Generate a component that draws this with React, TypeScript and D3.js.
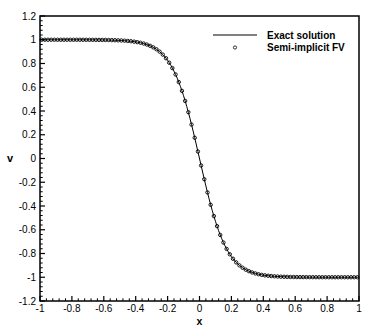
import React from "react";
import * as d3 from "d3";

const fvX = [
  -0.99, -0.97, -0.95, -0.93, -0.91, -0.89, -0.87, -0.85, -0.83, -0.81,
  -0.79, -0.77, -0.75, -0.73, -0.71, -0.69, -0.67, -0.65, -0.63, -0.61,
  -0.59, -0.57, -0.55, -0.53, -0.51, -0.49, -0.47, -0.45, -0.43, -0.41,
  -0.39, -0.37, -0.35, -0.33, -0.31, -0.29, -0.27, -0.25, -0.23, -0.21,
  -0.19, -0.17, -0.15, -0.13, -0.11, -0.09, -0.07, -0.05, -0.03, -0.01,
  0.01, 0.03, 0.05, 0.07, 0.09, 0.11, 0.13, 0.15, 0.17, 0.19,
  0.21, 0.23, 0.25, 0.27, 0.29, 0.31, 0.33, 0.35, 0.37, 0.39,
  0.41, 0.43, 0.45, 0.47, 0.49, 0.51, 0.53, 0.55, 0.57, 0.59,
  0.61, 0.63, 0.65, 0.67, 0.69, 0.71, 0.73, 0.75, 0.77, 0.79,
  0.81, 0.83, 0.85, 0.87, 0.89, 0.91, 0.93, 0.95, 0.97, 0.99,
];

const fvV = [
  1.0, 1.0, 1.0, 1.0, 1.0, 0.9999, 0.9999, 0.9999, 0.9999, 0.9999,
  0.9998, 0.9998, 0.9997, 0.9996, 0.9995, 0.9994, 0.9992, 0.999, 0.9988, 0.9985,
  0.9981, 0.9976, 0.9969, 0.9961, 0.9951, 0.9938, 0.9921, 0.99, 0.9874, 0.984,
  0.9799, 0.9746, 0.9679, 0.9596, 0.9492, 0.9361, 0.9199, 0.8997, 0.8748, 0.8441,
  0.8067, 0.7616, 0.7076, 0.6438, 0.5697, 0.4849, 0.39, 0.2859, 0.1747, 0.0588,
  -0.0588, -0.1747, -0.2859, -0.39, -0.4849, -0.5697, -0.6438, -0.7076, -0.7616, -0.8067,
  -0.8441, -0.8748, -0.8997, -0.9199, -0.9361, -0.9492, -0.9596, -0.9679, -0.9746, -0.9799,
  -0.984, -0.9874, -0.99, -0.9921, -0.9938, -0.9951, -0.9961, -0.9969, -0.9976, -0.9981,
  -0.9985, -0.9988, -0.999, -0.9992, -0.9994, -0.9995, -0.9996, -0.9997, -0.9998, -0.9998,
  -0.9999, -0.9999, -0.9999, -0.9999, -0.9999, -1.0, -1.0, -1.0, -1.0, -1.0,
];

const exactX = [-1.0, ...fvX, 1.0];
const exactV = [1.0, ...fvV, -1.0];

const xTicks = [-1, -0.8, -0.6, -0.4, -0.2, 0, 0.2, 0.4, 0.6, 0.8, 1];
const yTicks = [-1.2, -1, -0.8, -0.6, -0.4, -0.2, 0, 0.2, 0.4, 0.6, 0.8, 1, 1.2];
const legendLabels = ["Exact solution", "Semi-implicit FV"];

const W = 374;
const H = 332;
const L = 40, R = 359, T = 16, B = 301;
const FONT = "'Liberation Sans', Arial, Helvetica, sans-serif";

export default function App() {
  const x = d3.scaleLinear().domain([-1, 1]).range([L, R]);
  const y = d3.scaleLinear().domain([-1.2, 1.2]).range([B, T]);

  const line = d3
    .line<number>()
    .x((_, i) => x(exactX[i]))
    .y((d) => y(d))
    .curve(d3.curveMonotoneX);

  const xMinor: number[] = [];
  for (let i = 0; i < xTicks.length - 1; i++) {
    const a = xTicks[i], b = xTicks[i + 1];
    for (let k = 1; k < 5; k++) xMinor.push(a + ((b - a) * k) / 5);
  }
  const yMinor: number[] = [];
  for (let i = 0; i < yTicks.length - 1; i++) {
    const a = yTicks[i], b = yTicks[i + 1];
    for (let k = 1; k < 5; k++) yMinor.push(a + ((b - a) * k) / 5);
  }

  const fmt = (v: number) => {
    const s = d3.format("")(Math.round(v * 10) / 10);
    return s.replace("\u2212", "-");
  };

  return (
    <svg
      width={W}
      height={H}
      style={{ position: "absolute", left: 0, top: 0, display: "block", background: "#fff" }}
      fontFamily={FONT}
    >
      {xMinor.map((t, i) => (
        <line key={"xm" + i} x1={x(t)} x2={x(t)} y1={B} y2={B - 2.7} stroke="#000" strokeWidth={1} />
      ))}
      {yMinor.map((t, i) => (
        <line key={"ym" + i} x1={L} x2={L + 2.7} y1={y(t)} y2={y(t)} stroke="#000" strokeWidth={1} />
      ))}
      {xTicks.map((t, i) => (
        <line key={"xM" + i} x1={x(t)} x2={x(t)} y1={B} y2={B - 5} stroke="#000" strokeWidth={1.2} />
      ))}
      {yTicks.map((t, i) => (
        <line key={"yM" + i} x1={L} x2={L + 5} y1={y(t)} y2={y(t)} stroke="#000" strokeWidth={1.2} />
      ))}
      {xTicks.map((t, i) => (
        <text key={"xl" + i} x={x(t)} y={B + 10.5} fontSize={10} textAnchor="middle" fill="#000">
          {fmt(t)}
        </text>
      ))}
      {yTicks.map((t, i) => (
        <text key={"yl" + i} x={L - 4} y={y(t)} dy="0.35em" fontSize={10} textAnchor="end" fill="#000">
          {fmt(t)}
        </text>
      ))}
      <text x={x(0)} y={324.5} fontSize={10.5} fontWeight="bold" textAnchor="middle" fill="#000">
        x
      </text>
      <text x={10} y={y(0)} dy="0.35em" fontSize={11} fontWeight="bold" textAnchor="middle" fill="#000">
        v
      </text>
      <path d={line(exactV) || ""} fill="none" stroke="#000" strokeWidth={1} />
      {fvV.map((v, i) => (
        <circle key={"c" + i} cx={x(fvX[i])} cy={y(v)} r={1.7} fill="none" stroke="#000" strokeWidth={0.9} />
      ))}
      <rect x={L} y={T} width={R - L} height={B - T} fill="none" stroke="#000" strokeWidth={1.5} />
      <line x1={213} x2={257} y1={35} y2={35} stroke="#000" strokeWidth={1} />
      <text x={267} y={38.5} fontSize={10} fontWeight="bold" fill="#000">
        {legendLabels[0]}
      </text>
      <circle cx={235} cy={47.5} r={1.6} fill="none" stroke="#000" strokeWidth={0.8} />
      <text x={267} y={50.5} fontSize={10} fontWeight="bold" fill="#000">
        {legendLabels[1]}
      </text>
    </svg>
  );
}
